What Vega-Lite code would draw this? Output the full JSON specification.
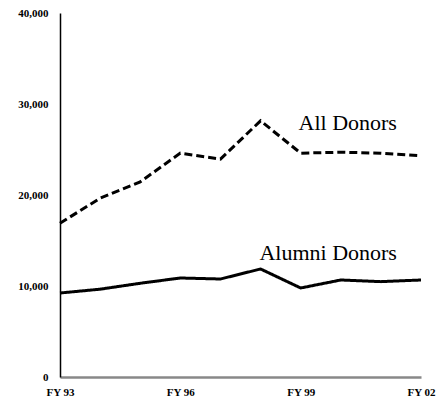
{
  "$schema": "https://vega.github.io/schema/vega-lite/v6.json",
  "width": 361,
  "height": 364,
  "autosize": {"type": "none"},
  "padding": {"left": 60, "top": 13, "right": 16, "bottom": 25},
  "background": "white",
  "config": {"view": {"stroke": null}, "font": "serif"},
  "datasets": {
    "donors": [
      {"year": 1993, "series": "All Donors", "donors": 16900},
      {"year": 1994, "series": "All Donors", "donors": 19650},
      {"year": 1995, "series": "All Donors", "donors": 21450},
      {"year": 1996, "series": "All Donors", "donors": 24600},
      {"year": 1997, "series": "All Donors", "donors": 23950},
      {"year": 1998, "series": "All Donors", "donors": 28150},
      {"year": 1999, "series": "All Donors", "donors": 24600},
      {"year": 2000, "series": "All Donors", "donors": 24700},
      {"year": 2001, "series": "All Donors", "donors": 24600},
      {"year": 2002, "series": "All Donors", "donors": 24300},
      {"year": 1993, "series": "Alumni Donors", "donors": 9230},
      {"year": 1994, "series": "Alumni Donors", "donors": 9650},
      {"year": 1995, "series": "Alumni Donors", "donors": 10300},
      {"year": 1996, "series": "Alumni Donors", "donors": 10880},
      {"year": 1997, "series": "Alumni Donors", "donors": 10770},
      {"year": 1998, "series": "Alumni Donors", "donors": 11870},
      {"year": 1999, "series": "Alumni Donors", "donors": 9780},
      {"year": 2000, "series": "Alumni Donors", "donors": 10660},
      {"year": 2001, "series": "Alumni Donors", "donors": 10480},
      {"year": 2002, "series": "Alumni Donors", "donors": 10660}
    ],
    "labels": [
      {"year": 2001.4, "donors": 27140, "label": "All Donors"},
      {"year": 2001.4, "donors": 12860, "label": "Alumni Donors"}
    ]
  },
  "layer": [
    {
      "data": {"name": "donors"},
      "mark": {"type": "line", "color": "black", "strokeWidth": 3},
      "encoding": {
        "x": {
          "field": "year",
          "type": "quantitative",
          "scale": {"domain": [1993, 2002], "nice": false, "zero": false},
          "axis": {
            "title": null,
            "values": [1993, 1996, 1999, 2002],
            "labelExpr": "'FY ' + slice(toString(datum.value), 2)",
            "ticks": false,
            "grid": false,
            "domainColor": "#888888",
            "domainWidth": 2.5,
            "labelFont": "serif",
            "labelFontWeight": "bold",
            "labelFontSize": 11,
            "labelColor": "black",
            "labelPadding": 9,
            "labelFlush": false
          }
        },
        "y": {
          "field": "donors",
          "type": "quantitative",
          "scale": {"domain": [0, 40000], "nice": false},
          "axis": {
            "title": null,
            "values": [0, 10000, 20000, 30000, 40000],
            "format": ",d",
            "ticks": false,
            "grid": false,
            "domainColor": "black",
            "domainWidth": 1.5,
            "labelFont": "serif",
            "labelFontWeight": "bold",
            "labelFontSize": 11,
            "labelColor": "black",
            "labelPadding": 12
          }
        },
        "detail": {"field": "series"},
        "strokeDash": {
          "field": "series",
          "type": "nominal",
          "scale": {"domain": ["All Donors", "Alumni Donors"], "range": [[8, 4], [1, 0]]},
          "legend": null
        }
      }
    },
    {
      "data": {"name": "labels"},
      "mark": {"type": "text", "align": "right", "baseline": "alphabetic", "font": "Times New Roman", "fontSize": 22, "color": "black"},
      "encoding": {
        "x": {"field": "year", "type": "quantitative"},
        "y": {"field": "donors", "type": "quantitative"},
        "text": {"field": "label"}
      }
    }
  ]
}
